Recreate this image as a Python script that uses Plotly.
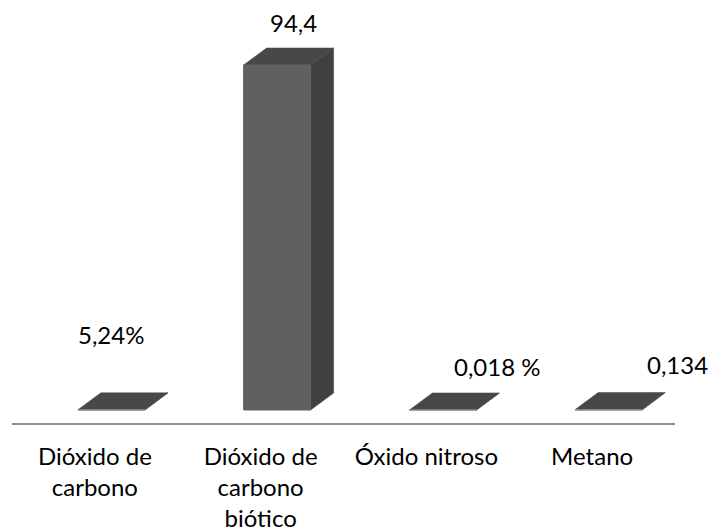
import plotly.graph_objects as go

# ---- data ----
categories = ["Dióxido de<br>carbono", "Dióxido de<br>carbono<br>biótico", "Óxido nitroso", "Metano"]
values = [0.0524, 94.4, 0.018, 0.134]
value_labels = ["5,24%", "94,4", "0,018 %", "0,134"]

# ---- layout constants ----
W, H = 710, 531
ML, MR, MT, MB = 12, 35, 10, 108
X_RANGE = [-0.5, 3.5]
Y_RANGE = [0, 113]
PX_X = (W - ML - MR) / (X_RANGE[1] - X_RANGE[0])
PX_Y = (H - MT - MB) / (Y_RANGE[1] - Y_RANGE[0])

# 3D look (pixels converted to data units)
OX = 16.5 / PX_X      # bar front shift from axis plane
OY = 13 / PX_Y
BW = 67 / PX_X        # front face width
DX = 23 / PX_X        # depth
DY = 17 / PX_Y

FRONT = "#606060"
SIDE = "#404040"
TOP = "#484848"
FONT = "Lato"
FS = 24

label_dx_px = [16, 33, 71, 85]
label_lift_px = [58, 25, 26, 28]

fig = go.Figure()
for i, v in enumerate(values):
    x0 = i + OX - BW / 2
    x1 = i + OX + BW / 2
    y0 = OY
    y1 = OY + v
    # side
    fig.add_trace(go.Scatter(
        x=[x1, x1 + DX, x1 + DX, x1, x1], y=[y0, y0 + DY, y1 + DY, y1, y0],
        fill="toself", fillcolor=SIDE, mode="lines", line=dict(color=SIDE, width=0.5),
        hoverinfo="skip", showlegend=False))
    # top
    fig.add_trace(go.Scatter(
        x=[x0, x1, x1 + DX, x0 + DX, x0], y=[y1, y1, y1 + DY, y1 + DY, y1],
        fill="toself", fillcolor=TOP, mode="lines", line=dict(color=TOP, width=0.5),
        hoverinfo="skip", showlegend=False))
    # front
    fig.add_trace(go.Scatter(
        x=[x0, x1, x1, x0, x0], y=[y0, y0, y1, y1, y0],
        fill="toself", fillcolor=FRONT, mode="lines", line=dict(color="#8a8a8a" if v < 1 else FRONT, width=1),
        hoverinfo="skip", showlegend=False))
    fig.add_annotation(
        x=i, y=v + OY + DY, xshift=label_dx_px[i], yshift=label_lift_px[i],
        text=value_labels[i], showarrow=False, xanchor="center", yanchor="middle",
        font=dict(family=FONT, size=FS, color="#000000"))

fig.update_layout(
    width=W, height=H, margin=dict(l=ML, r=MR, t=MT, b=MB, autoexpand=False),
    paper_bgcolor="white", plot_bgcolor="white",
    font=dict(family=FONT, size=FS, color="#000000"),
    xaxis=dict(range=X_RANGE, tickvals=list(range(len(categories))), ticktext=categories,
               showgrid=False, zeroline=False, showline=True, linecolor="#8c8c8c", linewidth=2,
               ticks="", ticklabelstandoff=11, automargin=False, fixedrange=True),
    yaxis=dict(range=Y_RANGE, visible=False, automargin=False, fixedrange=True),
    showlegend=False,
)

fig.write_html("out.html")
